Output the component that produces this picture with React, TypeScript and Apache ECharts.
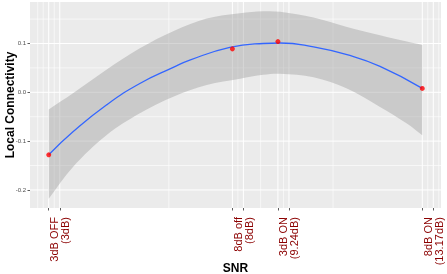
import React, { useEffect, useRef } from "react";
import * as echarts from "echarts";

// Observed points
const pointX = [3, 8, 9.24, 13.17];
const pointY = [-0.128, 0.089, 0.104, 0.008];

// Fitted smooth line
const fitX = [3.0, 3.66, 4.57, 5.48, 6.39, 6.84, 7.93, 8.84, 9.3, 10.21, 11.12, 12.02, 13.17];
const fitY = [-0.128, -0.081, -0.026, 0.018, 0.051, 0.066, 0.092, 0.1, 0.101, 0.093, 0.077, 0.053, 0.008];

// Confidence ribbon
const ribX = [3.0, 3.66, 4.57, 5.48, 6.39, 7.3, 8.21, 8.84, 9.3, 10.21, 11.12, 12.02, 12.75, 13.17];
const ribUpper = [-0.035, -0.002, 0.046, 0.09, 0.125, 0.151, 0.162, 0.166, 0.165, 0.153, 0.134, 0.117, 0.104, 0.097];
const ribLower = [-0.218, -0.153, -0.088, -0.043, -0.009, 0.015, 0.028, 0.036, 0.038, 0.031, 0.008, -0.03, -0.064, -0.088];

// Axis breaks and labels
const tickX = [3, 3.3, 8, 8.3, 9.24, 9.54, 13.17, 13.47];
const tickXLabels = ["3dB OFF", "(3dB)", "8dB off", "(8dB)", "3dB ON", "(9.24dB)", "8dB ON", "(13.17dB)"];
const minorX = [2.7, 2.85, 3.15, 6.27, 8.15, 8.77, 9.39, 10.74, 13.32, 13.62];
const tickY = [-0.2, -0.1, 0, 0.1];
const minorY = [-0.15, -0.05, 0.05, 0.15];

const xMin = 2.49;
const xMax = 13.68;
const yMin = -0.237;
const yMax = 0.185;

const FONT = "'Liberation Sans', Arial, Helvetica, sans-serif";

export default function App() {
  const ref = useRef<HTMLDivElement>(null);
  useEffect(() => {
    if (!ref.current) return;
    const chart = echarts.init(ref.current, null, { renderer: "svg" });

    const vLines = [
      ...tickX.map((v) => [v, 1]),
      ...minorX.map((v) => [v, 0]),
    ];
    const hLines = [
      ...tickY.map((v) => [v, 1]),
      ...minorY.map((v) => [v, 0]),
    ];

    const option: any = {
      animation: false,
      grid: {
        left: 30,
        right: 6,
        top: 2,
        bottom: 66,
        show: true,
        backgroundColor: "#EBEBEB",
        borderWidth: 0,
        containLabel: false,
        outerBoundsMode: "none",
      },
      xAxis: {
        type: "value",
        min: xMin,
        max: xMax,
        axisLine: { show: false, onZero: false },
        splitLine: { show: false },
        axisTick: {
          show: true,
          customValues: tickX,
          length: 2.5,
          lineStyle: { color: "#333333", width: 0.8 },
        },
        axisLabel: {
          customValues: tickX,
          rotate: 90,
          margin: 9,
          color: "#8B0000",
          fontSize: 11,
          fontFamily: FONT,
          verticalAlign: "top",
          formatter: (v: number) => {
            const i = tickX.findIndex((t) => Math.abs(t - v) < 1e-6);
            return i >= 0 ? tickXLabels[i] : "";
          },
        },
      },
      yAxis: {
        type: "value",
        min: yMin,
        max: yMax,
        axisLine: { show: false, onZero: false },
        splitLine: { show: false },
        axisTick: {
          show: true,
          customValues: tickY,
          length: 2.5,
          lineStyle: { color: "#333333", width: 0.8 },
        },
        axisLabel: {
          customValues: tickY,
          margin: 4,
          color: "#4D4D4D",
          fontSize: 6,
          fontFamily: FONT,
          formatter: (v: number) => v.toFixed(1),
        },
      },
      graphic: [
        {
          type: "text",
          x: 10,
          y: 105,
          rotation: Math.PI / 2,
          style: {
            text: "Local Connectivity",
            font: `bold 12px ${FONT}`,
            fill: "#000000",
            align: "center",
            verticalAlign: "middle",
          },
        },
        {
          type: "text",
          x: 235.5,
          y: 267.5,
          style: {
            text: "SNR",
            font: `bold 12px ${FONT}`,
            fill: "#000000",
            align: "center",
            verticalAlign: "middle",
          },
        },
      ],
      series: [
        {
          type: "custom",
          z: 1,
          silent: true,
          data: vLines,
          renderItem: (params: any, api: any) => {
            const cs = params.coordSys;
            const x = api.coord([api.value(0), 0])[0];
            return {
              type: "line",
              shape: { x1: x, y1: cs.y, x2: x, y2: cs.y + cs.height },
              style: { stroke: "#FFFFFF", lineWidth: api.value(1) ? 1 : 0.6 },
            };
          },
        },
        {
          type: "custom",
          z: 1,
          silent: true,
          data: hLines,
          renderItem: (params: any, api: any) => {
            const cs = params.coordSys;
            const y = api.coord([xMin, api.value(0)])[1];
            return {
              type: "line",
              shape: { x1: cs.x, y1: y, x2: cs.x + cs.width, y2: y },
              style: { stroke: "#FFFFFF", lineWidth: api.value(1) ? 1 : 0.6 },
            };
          },
        },
        {
          type: "custom",
          z: 2,
          silent: true,
          data: [[ribX[0], ribLower[0]]],
          renderItem: (params: any, api: any) => {
            const top = ribX.map((x, i) => api.coord([x, ribUpper[i]]));
            const bottom = ribX.map((x, i) => api.coord([x, ribLower[i]])).reverse();
            // duplicate the end vertices so the smoothing keeps the corners sharp
            const pts = [
              top[0],
              ...top,
              top[top.length - 1],
              bottom[0],
              ...bottom,
              bottom[bottom.length - 1],
            ];
            return {
              type: "polygon",
              shape: { points: pts, smooth: 0.35 },
              style: { fill: "rgba(153,153,153,0.4)" },
            };
          },
        },
        {
          type: "line",
          z: 3,
          silent: true,
          data: fitX.map((x, i) => [x, fitY[i]]),
          smooth: true,
          showSymbol: false,
          symbol: "none",
          lineStyle: { color: "#3366FF", width: 1.3 },
        },
        {
          type: "scatter",
          z: 4,
          silent: true,
          data: pointX.map((x, i) => [x, pointY[i]]),
          symbolSize: 5,
          itemStyle: { color: "#FF0000" },
        },
      ],
    };
    chart.setOption(option);
    return () => chart.dispose();
  }, []);
  return (
    <div
      ref={ref}
      style={{ position: "fixed", left: 0, top: 0, width: 447, height: 274 }}
    />
  );
}
